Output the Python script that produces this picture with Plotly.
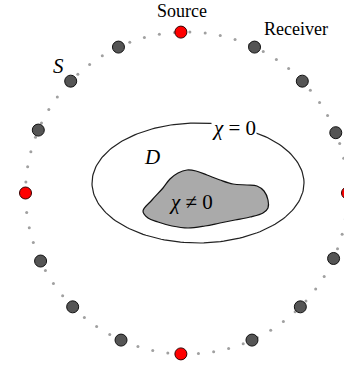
import numpy as np
import plotly.graph_objects as go

# ---- data ----
receiver_angles = [22, 44, 65, 115, 136, 157, 205, 225, 246, 294, 315, 336]  # degrees
source_angles = [0, 92, 180, 268]
n_track_dots = 66
track_start_angle = 88.8

blob_x = [143, 152, 163, 170, 178, 187, 196, 207, 220, 233, 247, 257, 264, 268, 268, 263, 250, 235, 220, 205, 188, 172, 158, 148, 143]
blob_y = [211, 200, 188, 179, 173, 170, 171, 175, 180, 184, 185, 186, 191, 200, 208, 213, 217, 220, 223, 226, 228, 226, 222, 218, 211]

labels = ["Source", "Receiver", "S", "D", "χ = 0", "χ ≠ 0"]

# ---- geometry ----
cx, cy, R = 186.5, 193.0, 161.0
ex, ey, erx, ery = 198.0, 183.0, 106.0, 60.0


def on_circle(angles):
    a = np.radians(np.asarray(angles, dtype=float))
    return cx + R * np.cos(a), cy - R * np.sin(a)


fig = go.Figure()

# dotted acquisition circle
ta = track_start_angle + np.arange(n_track_dots) * 360.0 / n_track_dots
tx, ty = on_circle(ta)
fig.add_trace(go.Scatter(x=tx, y=ty, mode="markers",
                         marker=dict(size=3, color="#a0a0a0"), hoverinfo="skip"))

# domain D ellipse
t = np.linspace(0, 2 * np.pi, 200)
fig.add_trace(go.Scatter(x=ex + erx * np.cos(t), y=ey + ery * np.sin(t), mode="lines",
                         line=dict(color="#222222", width=1.2), hoverinfo="skip"))

# scatterer blob
fig.add_trace(go.Scatter(x=blob_x, y=blob_y, mode="lines", fill="toself",
                         fillcolor="#aaaaaa", line=dict(color="#111111", width=1.2, shape="spline"),
                         hoverinfo="skip"))

# receivers
rx, ry = on_circle(receiver_angles)
fig.add_trace(go.Scatter(x=rx, y=ry, mode="markers",
                         marker=dict(size=12, color="#555555", line=dict(color="#111111", width=1))))
# sources
sx, sy = on_circle(source_angles)
fig.add_trace(go.Scatter(x=sx, y=sy, mode="markers",
                         marker=dict(size=12, color="#ff0000", line=dict(color="#330000", width=1))))

font = dict(family="Liberation Serif", size=18, color="black")
mfont = dict(family="Liberation Serif", size=21, color="black")
fig.add_annotation(x=182, y=11, text=labels[0], showarrow=False, font=font)
fig.add_annotation(x=296, y=29, text=labels[1], showarrow=False, font=font)
fig.add_annotation(x=58, y=66, text="<i>" + labels[2] + "</i>", showarrow=False, font=mfont)
fig.add_annotation(x=152, y=157, text="<i>" + labels[3] + "</i>", showarrow=False, font=mfont)
fig.add_annotation(x=234, y=128, text="<i>χ</i> = 0", showarrow=False, font=mfont,
                   bgcolor="white", borderpad=0)
fig.add_annotation(x=191, y=202, text="<i>χ</i> ≠ 0", showarrow=False, font=mfont)

fig.update_layout(width=344, height=366, margin=dict(l=0, r=0, t=0, b=0),
                  paper_bgcolor="white", plot_bgcolor="white", showlegend=False,
                  xaxis=dict(range=[0, 344], visible=False, fixedrange=True),
                  yaxis=dict(range=[366, 0], visible=False, fixedrange=True))

fig.write_html("out.html")
